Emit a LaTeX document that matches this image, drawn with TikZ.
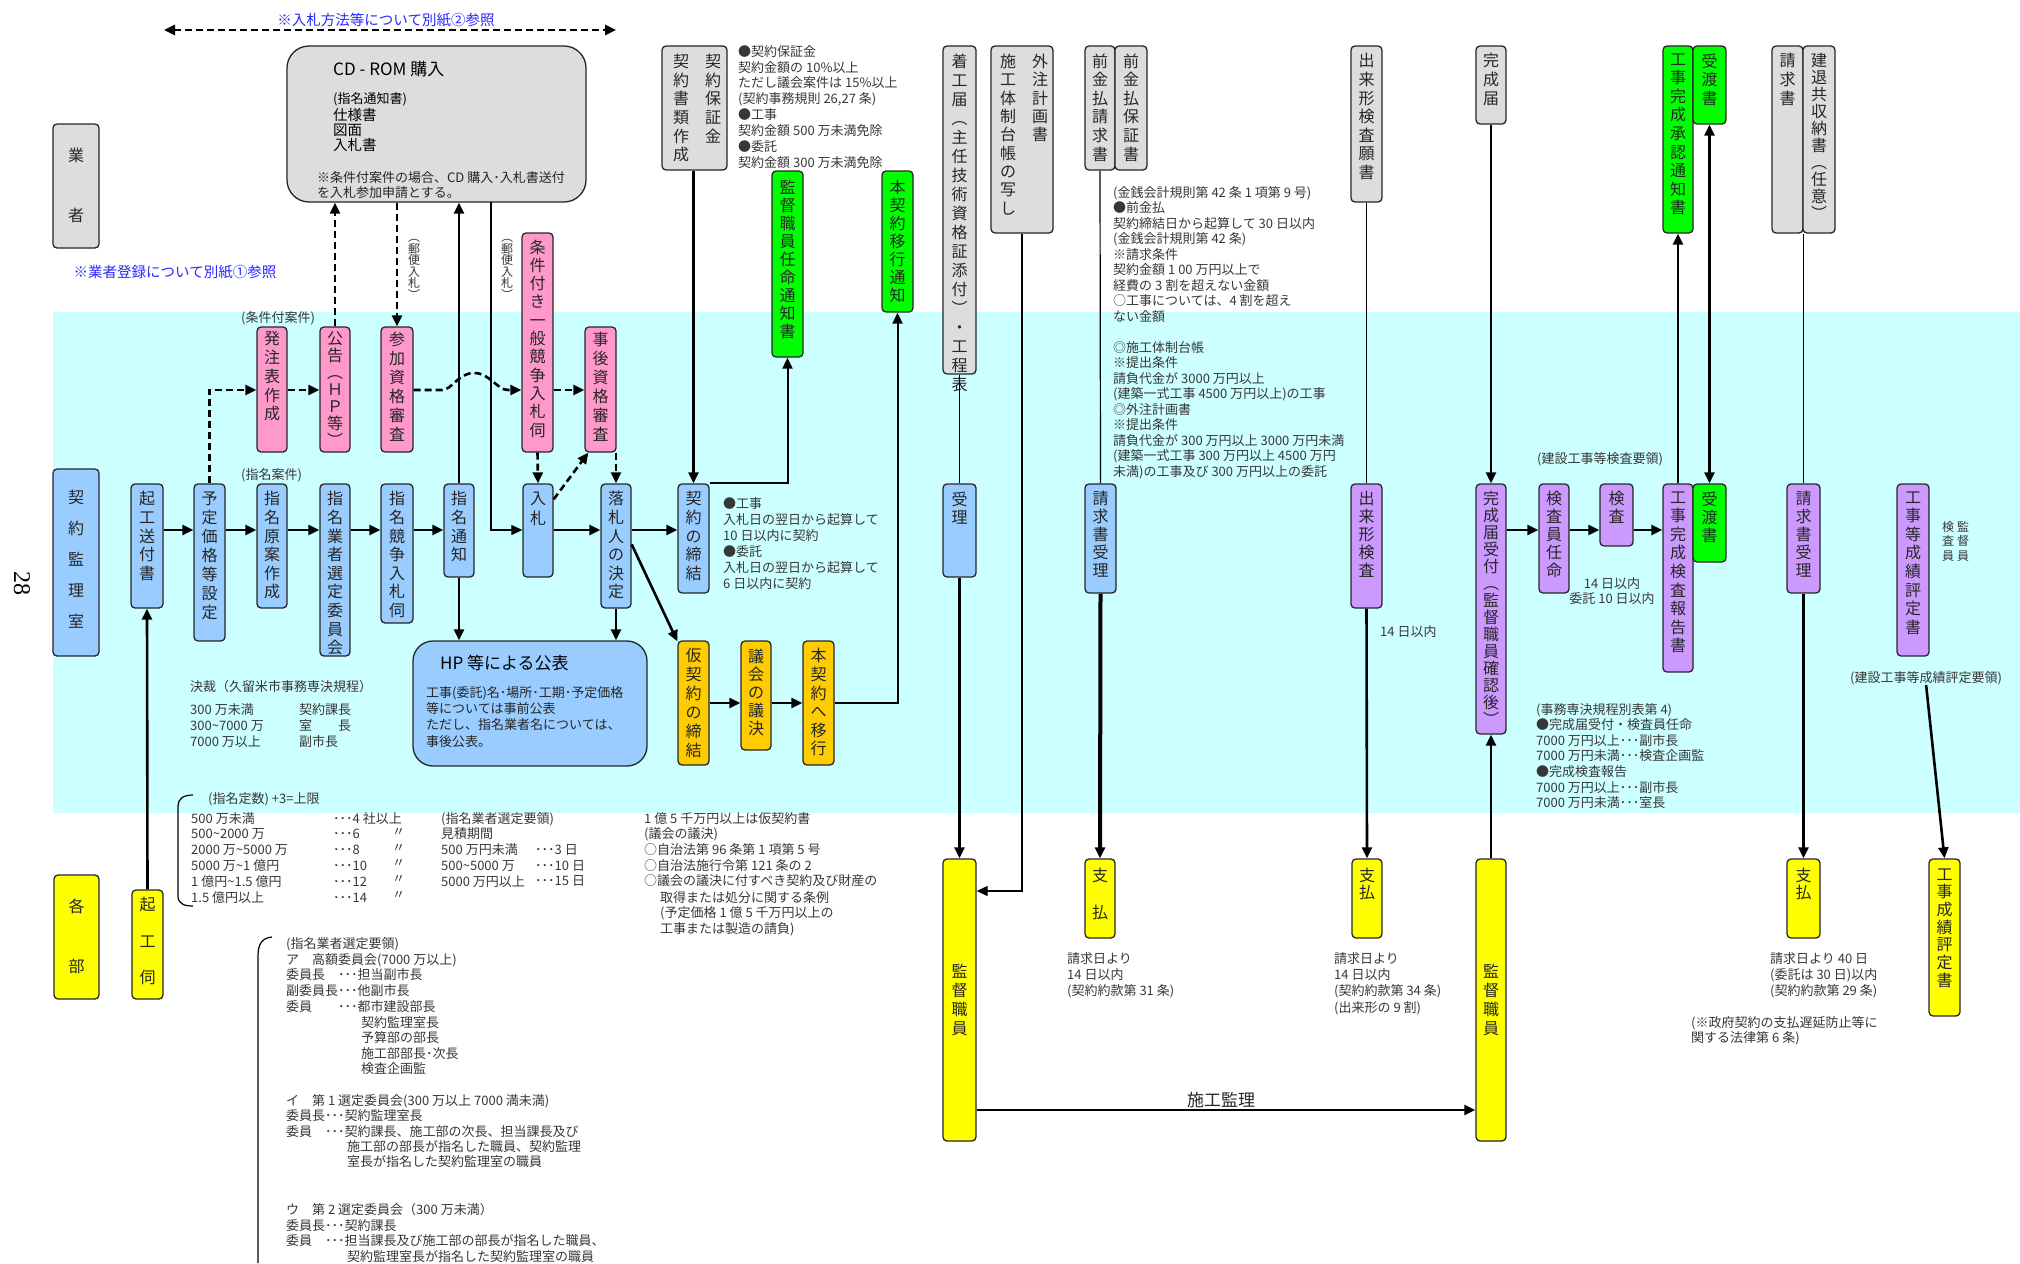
\documentclass[tikz,border=0pt]{standalone}
\usepackage{fontspec}
\setmainfont{Noto Sans CJK JP}
\newfontfamily\numfont{Liberation Serif}
\usetikzlibrary{arrows.meta,fit,calc}
\definecolor{cgray}{RGB}{221,221,221}
\definecolor{cpink}{RGB}{255,153,204}
\definecolor{cblue}{RGB}{153,204,255}
\definecolor{cgreen}{RGB}{0,255,0}
\definecolor{corange}{RGB}{255,204,0}
\definecolor{cyellow}{RGB}{255,255,0}
\definecolor{cpurple}{RGB}{204,153,255}
\definecolor{ccyan}{RGB}{204,255,255}
\definecolor{cnote}{RGB}{40,40,255}
\definecolor{ctext}{RGB}{55,55,55}
\newcommand\Fsm{\fontsize{13}{15.7}\selectfont}
\newcommand\Fxs{\fontsize{12}{14}\selectfont}
\newcommand\Fbx{\fontsize{16}{18.6}\selectfont}
\newcommand\Fbg{\fontsize{17}{20}\selectfont}
\newcommand\Fnote{\fontsize{14.5}{17}\selectfont}
\makeatletter
\newcommand\vt[2][18.6pt]{\vbox{\baselineskip=#1\relax\lineskiplimit=-100pt\lineskip=0pt\vt@a#2\vt@end}}
\def\vt@a#1#2\vt@end{\hbox to 1em{\hss#1\hss}\ifx\relax#2\relax\expandafter\@gobble\else\expandafter\@firstofone\fi{\vt@a#2\vt@end}}
\makeatother
\newcommand\mkbox[8][8]{\node[#3, fit={(#4,#5) (#6,#7)}] (#2) {};\node[vtn] at ($(#2.north)+(0,#1)$) {#8};}
\begin{document}
\begin{tikzpicture}[x=1pt,y=-1pt,
  >={Triangle[length=11pt,width=10pt]},
  bx/.style={draw=black!85, line width=1.3pt, rounded corners=4pt, inner sep=0pt},
  boxG/.style={bx, fill=cgray},
  boxP/.style={bx, fill=cpink},
  boxB/.style={bx, fill=cblue},
  boxN/.style={bx, fill=cgreen},
  boxO/.style={bx, fill=corange},
  boxY/.style={bx, fill=cyellow},
  boxV/.style={bx, fill=cpurple},
  vtn/.style={inner sep=0pt, anchor=north, font=\Fbx, text=black!85},
  tb/.style={inner sep=0pt, anchor=north west, align=left, font=\Fsm, text=ctext},
  arr/.style={line width=2.6pt, ->},
  arrm/.style={line width=2pt, ->},
  arrxl/.style={line width=4pt, ->},
  ln/.style={line width=1.2pt},
  lnarr/.style={line width=1.2pt, ->},
  dshline/.style={line width=2.6pt, dash pattern=on 7pt off 4pt},
  dsh/.style={dshline, ->},
  ]
\useasboundingbox (0,0) rectangle (2020,1263);
\fill[white] (0,0) rectangle (2020,1263);
\fill[ccyan] (53,312) rectangle (2020,813);

% page number
\node[font=\numfont\fontsize{24}{24}\selectfont, rotate=-90] (pg) at (22,583) {28};

% top notes
\coordinate (dl) at (164,30);
\coordinate (dr) at (616,30);
\draw[dshline, <->] (dl) -- (dr);
\node[font=\Fnote, text=cnote] (n2) at (386,20) {※入札方法等について別紙②参照};
\node[font=\Fnote, text=cnote] (n1) at (175,272) {※業者登録について別紙①参照};

% 業者
\mkbox[24]{gyo}{boxG}{53}{124}{99}{248}{\vt[60pt]{業者}}

% CD-ROM
\node[boxG, rounded corners=22pt, fit={(287,46) (586,202)}] (cdrom) {};
\node[anchor=west, font=\Fbg, inner sep=0pt] (cdt) at (333,69) {CD - ROM 購入};
\node[anchor=west, font=\Fsm, inner sep=0pt] (cd1) at (333,99) {(指名通知書)};
\node[anchor=north west, font=\fontsize{14.5}{15.2}\selectfont, inner sep=0pt, align=left] (cd2) at (333,108) {仕様書\\図面\\入札書};
\node[tb, font=\fontsize{13}{15}\selectfont, text=black!85] (cd3) at (317,171) {※条件付案件の場合、CD 購入･入札書送付\\を入札参加申請とする。};

% 契約書類作成 / 契約保証金
\node[boxG, fit={(662,46) (727,170)}] (keiyakusho) {};
\node[vtn] (ks1) at (713,54) {\vt{契約保証金}};
\node[vtn] (ks2) at (681,54) {\vt{契約書類作成}};
\node[tb, font=\fontsize{13}{15.9}\selectfont] (tA) at (738,45) {●契約保証金\\契約金額の 10\%以上\\ただし議会案件は 15\%以上\\(契約事務規則 26,27 条)\\●工事\\契約金額 500 万未満免除\\●委託\\契約金額 300 万未満免除};

% green notices
\mkbox[10]{kantokuNinmei}{boxN}{772}{171}{803}{357}{\vt[18pt]{監督職員任命通知書}}
\mkbox[10]{honTsuchi}{boxN}{882}{171}{913}{312}{\vt[18pt]{本契約移行通知}}

% 着工届
\mkbox{chakko}{boxG}{943}{46}{976}{374}{\vt[19pt]{着工届︵主任技術資格証添付︶・工程表}}

% 施工体制台帳
\node[boxG, fit={(991,46) (1053,233)}] (sekou) {};
\node[vtn] (sk1) at (1008,54) {\vt[18.3pt]{施工体制台帳の写し}};
\node[vtn] (sk2) at (1040,54) {\vt[18.3pt]{外注計画書}};

% 前金払
\mkbox{maekin1}{boxG}{1085}{46}{1115}{170}{\vt{前金払請求書}}
\mkbox{maekin2}{boxG}{1115}{46}{1147}{170}{\vt{前金払保証書}}
\node[tb, font=\fontsize{13}{15.5}\selectfont] (tB) at (1113,186) {(金銭会計規則第 42 条 1 項第 9 号)\\●前金払\\契約締結日から起算して 30 日以内\\(金銭会計規則第 42 条)\\※請求条件\\契約金額 1 00 万円以上で\\経費の 3 割を超えない金額\\○工事については、4 割を超え\\ない金額\\[15.5pt]◎施工体制台帳\\※提出条件\\請負代金が 3000 万円以上\\(建築一式工事 4500 万円以上)の工事\\◎外注計画書\\※提出条件\\請負代金が 300 万円以上 3000 万円未満\\(建築一式工事 300 万円以上 4500 万円\\未満)の工事及び 300 万円以上の委託};

% top right
\mkbox{dekidaka}{boxG}{1351}{46}{1382}{202}{\vt{出来形検査願書}}
\mkbox{kansei}{boxG}{1476}{46}{1506}{124}{\vt{完成届}}
\mkbox{shounin}{boxN}{1663}{46}{1693}{233}{\vt{工事完成承認通知書}}
\mkbox{uke1}{boxN}{1693}{46}{1726}{124}{\vt{受渡書}}
\mkbox{seikyu}{boxG}{1772}{46}{1803}{233}{\vt{請求書}}
\mkbox{kentai}{boxG}{1803}{46}{1835}{233}{\vt[17pt]{建退共収納書︵任意︶}}

% pink row
\mkbox[5]{hatchu}{boxP}{257}{327}{287}{452}{\vt[18.7pt]{発注表作成}}
\mkbox[5]{koukoku}{boxP}{320}{327}{350}{452}{\vt[17pt]{公告︵ＨＰ等︶}}
\mkbox[6]{sanka}{boxP}{381}{327}{413}{452}{\vt[19pt]{参加資格審査}}
\mkbox[7]{joken}{boxP}{522}{233}{553}{452}{\vt[18.3pt]{条件付き一般競争入札伺}}
\mkbox[6]{jigo}{boxP}{585}{327}{616}{452}{\vt[19pt]{事後資格審査}}
\node[tb, anchor=west] (lb1) at (241,318) {(条件付案件)};
\node[tb, anchor=west] (lb2) at (241,475) {(指名案件)};
\node[vtn, font=\Fxs, text=ctext] (yb1) at (414,239) {\vt[11.6pt]{︵郵便入札︶}};
\node[vtn, font=\Fxs, text=ctext] (yb2) at (507,239) {\vt[11.6pt]{︵郵便入札︶}};

% blue row
\mkbox[22]{kanri}{boxB}{53}{469}{99}{656}{\vt[31pt]{契約監理室}}
\mkbox{kikoSofu}{boxB}{131}{484}{163}{608}{\vt{起工送付書}}
\mkbox{yotei}{boxB}{194}{484}{225}{641}{\vt[19pt]{予定価格等設定}}
\mkbox{shimeiGen}{boxB}{257}{484}{287}{608}{\vt{指名原案作成}}
\mkbox{sentei}{boxB}{320}{484}{350}{656}{\vt{指名業者選定委員会}}
\mkbox{shimeiKyoso}{boxB}{381}{484}{413}{623}{\vt{指名競争入札伺}}
\mkbox{shimeiTsuchi}{boxB}{444}{484}{474}{577}{\vt{指名通知}}
\mkbox{nyusatsu}{boxB}{523}{484}{553}{577}{\vt[20pt]{入札}}
\mkbox{rakusatsu}{boxB}{601}{484}{631}{608}{\vt{落札人の決定}}
\mkbox{teiketsu}{boxB}{678}{484}{709}{593}{\vt{契約の締結}}
\mkbox{juri}{boxB}{943}{484}{976}{577}{\vt[18pt]{受理}}
\mkbox{seikyuJuri}{boxB}{1085}{484}{1116}{593}{\vt[18pt]{請求書受理}}
\node[tb, font=\fontsize{13}{16}\selectfont] (tC) at (723,497) {●工事\\入札日の翌日から起算して\\10 日以内に契約\\●委託\\入札日の翌日から起算して\\6 日以内に契約};

% HP box
\node[boxB, rounded corners=20pt, fit={(413,641) (647,766)}] (hp) {};
\node[anchor=west, font=\Fbg, inner sep=0pt] (hpt) at (440,663) {HP 等による公表};
\node[tb, font=\fontsize{13}{16.3}\selectfont, text=black!85] (hpb) at (426,686) {工事(委託)名･場所･工期･予定価格\\等については事前公表\\ただし、指名業者名については、\\事後公表。};

% 決裁
\node[tb, anchor=west] (kd0) at (190,687) {決裁（久留米市事務専決規程）};
\node[tb, font=\fontsize{13}{16}\selectfont] (kd1) at (190,703) {300 万未満\\300\textasciitilde 7000 万\\7000 万以上};
\node[tb, font=\fontsize{13}{16}\selectfont] (kd2) at (299,703) {契約課長\\室　　長\\副市長};

% orange
\mkbox{kari}{boxO}{678}{641}{709}{765}{\vt[19pt]{仮契約の締結}}
\mkbox{gikai}{boxO}{741}{641}{771}{750}{\vt[18pt]{議会の議決}}
\mkbox{honIko}{boxO}{803}{641}{834}{765}{\vt{本契約へ移行}}

% purple
\mkbox{dekiKensa}{boxV}{1351}{484}{1382}{608}{\vt[18pt]{出来形検査}}
\mkbox{uketsuke}{boxV}{1476}{484}{1506}{734}{\vt[17pt]{完成届受付︵監督職員確認後︶}}
\mkbox{ninmei}{boxV}{1539}{484}{1569}{593}{\vt[18pt]{検査員任命}}
\mkbox{kensa}{boxV}{1600}{484}{1633}{546}{\vt[18pt]{検査}}
\mkbox{hokoku}{boxV}{1663}{484}{1693}{672}{\vt{工事完成検査報告書}}
\mkbox{uke2}{boxN}{1693}{484}{1726}{562}{\vt[18pt]{受渡書}}
\mkbox{seikyuJuri2}{boxV}{1787}{484}{1820}{593}{\vt[18pt]{請求書受理}}
\mkbox{seiseki}{boxV}{1897}{484}{1929}{656}{\vt{工事等成績評定書}}
\node[tb, anchor=west] (lb3) at (1380,632) {14 日以内};
\node[tb, anchor=west] (lb4) at (1537,459) {(建設工事等検査要領)};
\node[tb, anchor=center, align=center, font=\fontsize{13}{15.3}\selectfont] (lb5) at (1612,591) {14 日以内\\委託 10 日以内};
\node[vtn, font=\Fxs, text=ctext] (kk1) at (1963,521) {\vt[14.5pt]{監督員}};
\node[vtn, font=\Fxs, text=ctext] (kk2) at (1948,521) {\vt[14.5pt]{検査員}};
\node[tb, anchor=west] (seiteiYoryo) at (1850,678) {(建設工事等成績評定要領)};
\node[tb, font=\fontsize{13}{15.6}\selectfont] (tK) at (1536,703) {(事務専決規程別表第 4)\\●完成届受付・検査員任命\\7000 万円以上･･･副市長\\7000 万円未満･･･検査企画監\\●完成検査報告\\7000 万円以上･･･副市長\\7000 万円未満･･･室長};

% yellow
\mkbox[24]{kakubu}{boxY}{54}{875}{99}{999}{\vt[60pt]{各部}}
\mkbox[8]{kikoUk}{boxY}{132}{890}{163}{999}{\vt[36.5pt]{起工伺}}
\node[boxY, fit={(943,859) (976,1141)}] (kantoku1) {};
\node[vtn, anchor=center] (kt1) at (kantoku1.center) {\vt[19pt]{監督職員}};
\node[boxY, fit={(1476,859) (1506,1141)}] (kantoku2) {};
\node[vtn, anchor=center] (kt2) at (kantoku2.center) {\vt[19pt]{監督職員}};
\mkbox[9]{shiharai1}{boxY}{1085}{859}{1115}{938}{\vt[37pt]{支払}}
\mkbox[9]{shiharai2}{boxY}{1352}{859}{1382}{938}{\vt[17.5pt]{支払}}
\mkbox[9]{shiharai3}{boxY}{1787}{859}{1820}{938}{\vt[17.5pt]{支払}}
\mkbox[10]{seisekiH}{boxY}{1929}{859}{1960}{1016}{\vt[17.7pt]{工事成績評定書}}
\node[tb, font=\fontsize{13}{16.3}\selectfont] (tL1) at (1067,952) {請求日より\\14 日以内\\(契約約款第 31 条)};
\node[tb, font=\fontsize{13}{16.3}\selectfont] (tL2) at (1334,952) {請求日より\\14 日以内\\(契約約款第 34 条)\\(出来形の 9 割)};
\node[tb, font=\fontsize{13}{16.3}\selectfont] (tL3) at (1770,952) {請求日より 40 日\\(委託は 30 日)以内\\(契約約款第 29 条)};
\node[tb, font=\fontsize{13}{15.5}\selectfont] (tM) at (1691,1016) {(※政府契約の支払遅延防止等に\\関する法律第 6 条)};

% bottom-left notes
\draw[ln] (193,795) .. controls (183,795) and (178,799) .. (178,806) -- (178,896) .. controls (178,903) and (183,906) .. (193,906);
\node[tb, anchor=west] (nb0) at (208,799) {(指名定数) +3=上限};
\node[tb, font=\fontsize{13}{15.8}\selectfont] (nb1) at (191,812) {500 万未満\\500\textasciitilde 2000 万\\2000 万\textasciitilde 5000 万\\5000 万\textasciitilde 1 億円\\1 億円\textasciitilde 1.5 億円\\1.5 億円以上};
\node[tb, font=\fontsize{13}{15.8}\selectfont] (nb2) at (333,812) {･･･4 社以上\\･･･6\\･･･8\\･･･10\\･･･12\\･･･14};
\node[tb, font=\fontsize{13}{15.8}\selectfont] (nb3) at (392,828) {〃\\〃\\〃\\〃\\〃};
\node[tb, font=\fontsize{13}{15.8}\selectfont] (nb4) at (441,812) {(指名業者選定要領)\\見積期間\\500 万円未満\\500\textasciitilde 5000 万\\5000 万円以上};
\node[tb, font=\fontsize{13}{15.8}\selectfont] (nb5) at (535,844) {･･･3 日\\･･･10 日\\･･･15 日};
\node[tb, font=\fontsize{13}{15.7}\selectfont] (nb6) at (644,812) {1 億 5 千万円以上は仮契約書\\(議会の議決)\\○自治法第 96 条第 1 項第 5 号\\○自治法施行令第 121 条の 2\\○議会の議決に付すべき契約及び財産の};
\node[tb, font=\fontsize{13}{15.7}\selectfont] (nb7) at (660,891) {取得または処分に関する条例\\(予定価格 1 億 5 千万円以上の\\工事または製造の請負)};

\draw[ln] (272,937) .. controls (262,938) and (258,944) .. (258,956) -- (258,1263);
\node[tb, font=\fontsize{13}{15.9}\selectfont] (g1) at (286,937) {(指名業者選定要領)\\ア　高額委員会(7000 万以上)\\委員長　･･･担当副市長\\副委員長･･･他副市長\\委員　　･･･都市建設部長};
\node[tb, font=\fontsize{13}{15.6}\selectfont] (g1b) at (361,1016) {契約監理室長\\予算部の部長\\施工部部長･次長\\検査企画監};
\node[tb, font=\fontsize{13}{15.6}\selectfont] (g2) at (286,1094) {イ　第 1 選定委員会(300 万以上 7000 満未満)\\委員長･･･契約監理室長\\委員　･･･契約課長、施工部の次長、担当課長及び};
\node[tb, font=\fontsize{13}{15.6}\selectfont] (g2b) at (347,1140) {施工部の部長が指名した職員、契約監理\\室長が指名した契約監理室の職員};
\node[tb, font=\fontsize{13}{15.7}\selectfont] (g3) at (286,1203) {ウ　第 2 選定委員会（300 万未満）\\委員長･･･契約課長\\委員　･･･担当課長及び施工部の部長が指名した職員、};
\node[tb, font=\fontsize{13}{15.6}\selectfont] (g3b) at (347,1250) {契約監理室長が指名した契約監理室の職員};

% ---------- connectors ----------
\coordinate (row) at (0,530);
\coordinate (prow) at (0,390);
\coordinate (yb) at (491,202);
\foreach \a/\b in {kikoSofu/yotei, yotei/shimeiGen, shimeiGen/sentei, sentei/shimeiKyoso, shimeiKyoso/shimeiTsuchi, nyusatsu/rakusatsu, rakusatsu/teiketsu, uketsuke/ninmei, ninmei/kensa, kensa/hokoku}
  \draw[arr] (\a.east |- row) -- (\b.west |- row);
\draw[dsh] (yotei.north) |- (hatchu.west |- prow);
\draw[dsh] (hatchu.east |- prow) -- (koukoku.west |- prow);
\draw[dsh] (sanka.east |- prow) -- (442,390) .. controls (452,390) and (458,373) .. (474,373) .. controls (490,373) and (497,390) .. (508,390) -- (joken.west |- prow);
\draw[dsh] (joken.east |- prow) -- (jigo.west |- prow);
\draw[dsh] (joken.south) -- (nyusatsu.north);
\draw[dsh] ($(nyusatsu.north east)+(0,16)$) -- ($(jigo.south west)+(4,0)$);
\draw[dsh] (rakusatsu.north |- jigo.south) -- (rakusatsu.north);
\draw[dsh] (koukoku.north) -- (koukoku.north |- cdrom.south);
\draw[dsh] (sanka.north |- cdrom.south) -- (sanka.north);
\draw[arr] (shimeiTsuchi.north) -- (shimeiTsuchi.north |- cdrom.south);
\draw[lnarr] (yb) |- (nyusatsu.west |- row);
\draw[arr] (shimeiTsuchi.south) -- (shimeiTsuchi.south |- hp.north);
\draw[arr] (rakusatsu.south) -- (rakusatsu.south |- hp.north);
\draw[arr] ($(rakusatsu.north east)+(0,61)$) -- ($(kari.north west)+(0,1)$);
\draw[arr] (teiketsu.north |- keiyakusho.south) -- (teiketsu.north);
\draw[arrm] (teiketsu.north east) -| (kantokuNinmei.south);
\draw[arr] (kari.east |- 0,703) -- (gikai.west |- 0,703);
\draw[arr] (gikai.east |- 0,703) -- (honIko.west |- 0,703);
\draw[arrm] (honIko.east |- 0,703) -| (honTsuchi.south);
\draw[ln] (chakko.south) -- (juri.north);
\draw[arr] (juri.south) -- (kantoku1.north);
\draw[lnarr] (sekou.south) |- (kantoku1.east |- 0,891);
\draw[arr] (kantoku1.east |- 0,1110) -- (kantoku2.west |- 0,1110) node[pos=0.49, above, inner sep=1pt, font=\Fbg, text=black!85] {施工監理};
\draw[ln] (maekin1.south) -- (seikyuJuri.north);
\draw[arrxl] (seikyuJuri.south) -- (shiharai1.north);
\draw[ln] (dekidaka.south) -- (dekiKensa.north);
\draw[arr] (dekiKensa.south) -- (shiharai2.north);
\draw[arr] (kansei.south) -- (uketsuke.north);
\draw[arr] (kantoku2.north) -- (uketsuke.south);
\draw[arr] (hokoku.north) -- (shounin.south);
\draw[arr, <->] (uke1.south) -- (uke2.north);
\draw[ln] (seikyu.south east) -- (seikyu.south east |- seikyuJuri2.north);
\draw[arr] (seikyuJuri2.south) -- (shiharai3.north);
\draw[arr] (seiteiYoryo.south) -- (seisekiH.north);
\draw[arr] (kikoUk.north) -- (kikoSofu.south);
\end{tikzpicture}
\end{document}
